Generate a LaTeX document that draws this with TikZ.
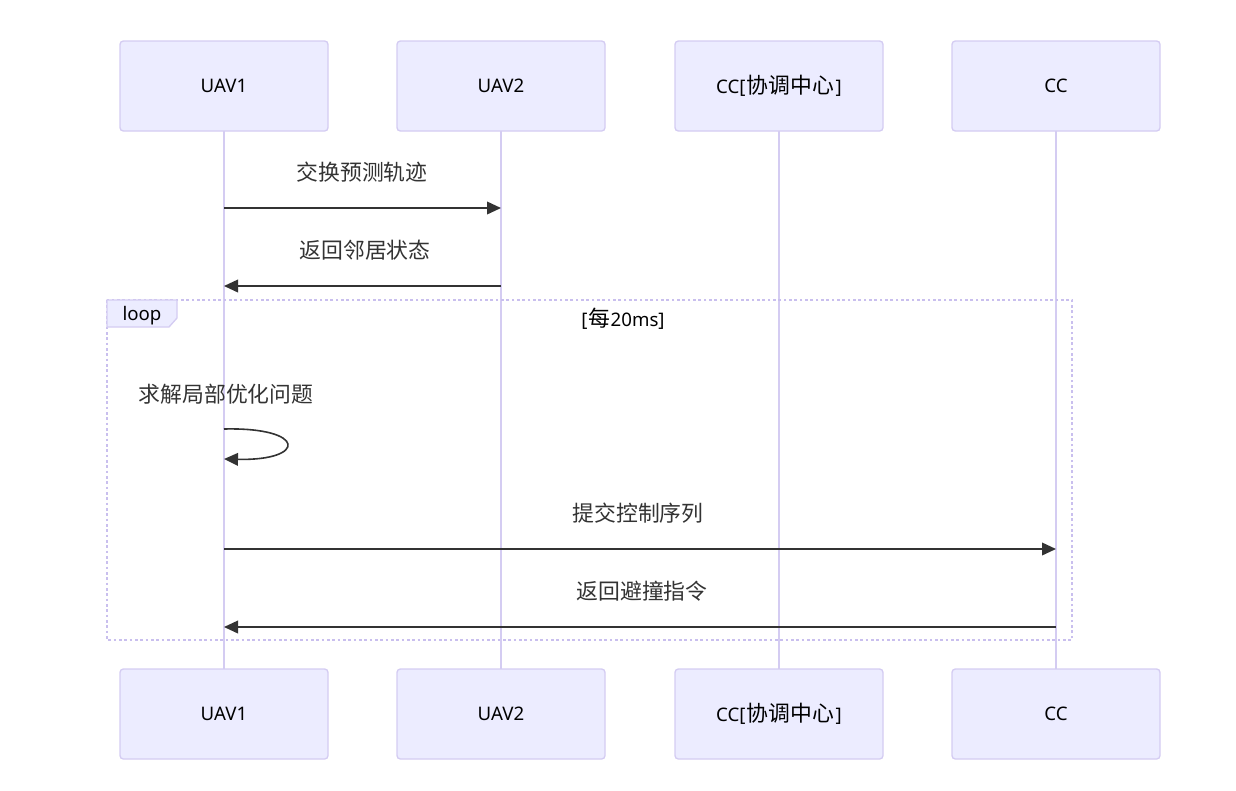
\documentclass[tikz,border=0pt]{standalone}
\usepackage{fontspec}
\setmainfont{Noto Sans}
\newfontfamily\cjk{Noto Sans CJK SC}[Scale=1.17]
\usetikzlibrary{arrows.meta}
\definecolor{actfill}{HTML}{ECECFF}
\definecolor{actline}{HTML}{D4CCF2}
\definecolor{frameline}{HTML}{C9BFEE}
\definecolor{msg}{HTML}{333333}
\begin{document}
\begin{tikzpicture}[x=0.75pt,y=-0.75pt,
  actor/.style={draw=actline,fill=actfill,line width=1pt,rounded corners=2.5pt,minimum width=208*0.75pt,minimum height=90*0.75pt,inner sep=0pt,font=\fontsize{14}{16}\selectfont,text=black},
  life/.style={draw=actline,line width=1.5pt},
  msgline/.style={draw=msg,line width=1.2pt,-{Triangle[length=10.5pt,width=9.5pt]}},
  msgtext/.style={font=\fontsize{14}{16}\selectfont,text=msg},
]
\useasboundingbox (0,0) rectangle (1236,790);
% lifelines
\foreach \n/\x in {a/224,b/501,c/779,d/1056}{
  \coordinate (\n t) at (\x,131);
  \coordinate (\n b) at (\x,669);
  \draw[life] (\n t) -- (\n b);
}
% actors
\node[actor] (a1) at (224,86) {UAV1};
\node[actor] (b1) at (501,86) {UAV2};
\node[actor] (c1) at (779,86) {CC[\hspace{1pt}{\cjk 协调中心}\hspace{1pt}]};
\node[actor] (d1) at (1056,86) {CC};
\node[actor] (a2) at (224,714) {UAV1};
\node[actor] (b2) at (501,714) {UAV2};
\node[actor] (c2) at (779,714) {CC[\hspace{1pt}{\cjk 协调中心}\hspace{1pt}]};
\node[actor] (d2) at (1056,714) {CC};
% messages before loop
\coordinate (m1s) at (224,208); \coordinate (m1e) at (501,208);
\draw[msgline] (m1s) -- (m1e);
\node[msgtext] (t1) at (362,172) {\cjk 交换预测轨迹};
\coordinate (m2s) at (501,286); \coordinate (m2e) at (224,286);
\draw[msgline] (m2s) -- (m2e);
\node[msgtext] (t2) at (365,250) {\cjk 返回邻居状态};
% loop frame
\coordinate (lf1) at (107,300); \coordinate (lf2) at (1072,640);
\draw[frameline,line width=1.6pt,dash pattern=on 2pt off 2pt] (lf1) rectangle (lf2);
\filldraw[fill=actfill,draw=actline,line width=1pt] (107,300) -- (177,300) -- (177,318) -- (169,327) -- (107,327) -- cycle;
\node[font=\fontsize{14}{16}\selectfont,text=black] (lp) at (142,316) {loop};
\node[font=\fontsize{14}{16}\selectfont,text=black] (cond) at (623,319) {[\hspace{1pt}{\cjk 每}20ms]};
% self message
\node[msgtext] (t3) at (226,394) {\cjk 求解局部优化问题};
\coordinate (s1) at (224,429); \coordinate (s2) at (224,459);
\draw[msgline] (s1) .. controls (307,427) and (307,461) .. (s2);
% messages in loop
\coordinate (m3s) at (224,549); \coordinate (m3e) at (1056,549);
\draw[msgline] (m3s) -- (m3e);
\node[msgtext] (t4) at (638,513) {\cjk 提交控制序列};
\coordinate (m4s) at (1056,627); \coordinate (m4e) at (224,627);
\draw[msgline] (m4s) -- (m4e);
\node[msgtext] (t5) at (642,591) {\cjk 返回避撞指令};
\end{tikzpicture}
\end{document}
